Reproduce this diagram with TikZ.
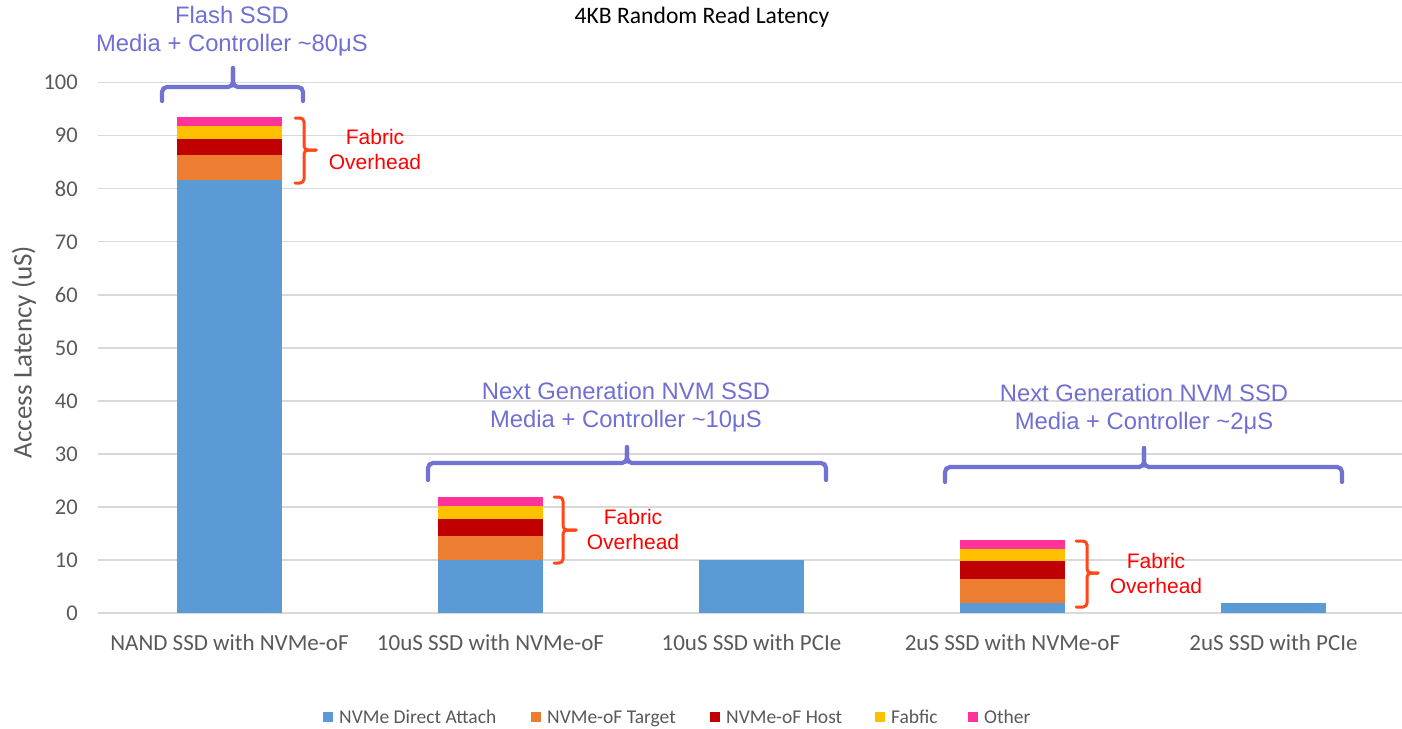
\documentclass[tikz,border=0pt]{standalone}
\usepackage{fontspec}
\setmainfont{Carlito}
\newfontfamily\arialf{Liberation Sans}
\definecolor{cblue}{HTML}{5B9BD5}
\definecolor{corange}{HTML}{ED7D31}
\definecolor{cred}{HTML}{C00000}
\definecolor{cyellow}{HTML}{FFC000}
\definecolor{cpink}{HTML}{FF3399}
\definecolor{cgrid}{HTML}{D9D9D9}
\definecolor{cgray}{HTML}{595959}
\definecolor{cpurple}{HTML}{6F6FD4}
\definecolor{cbrace}{HTML}{7272D2}
\definecolor{cfab}{HTML}{FF4719}
\newcommand\stackbar[6]{%
  \fill[cblue]   (#1-52.5,613) rectangle (#1+52.5,#2);
  \fill[corange] (#1-52.5,#2) rectangle (#1+52.5,#3);
  \fill[cred]    (#1-52.5,#3) rectangle (#1+52.5,#4);
  \fill[cyellow] (#1-52.5,#4) rectangle (#1+52.5,#5);
  \fill[cpink]   (#1-52.5,#5) rectangle (#1+52.5,#6);}
\begin{document}
\begin{tikzpicture}[x=1pt,y=-1pt,
  grid/.style={draw=cgrid,line width=1.4pt},
  ticklbl/.style={anchor=east,inner sep=0pt,text=cgray,font=\fontsize{22.5}{26}\selectfont},
  catlbl/.style={inner sep=0pt,text=cgray,font=\fontsize{23}{27}\selectfont},
  leglbl/.style={anchor=base west,inner sep=0pt,text=cgray,font=\fontsize{19.5}{23}\selectfont},
  purplelbl/.style={align=center,inner sep=0pt,text=cpurple,font=\arialf\fontsize{23.8}{28}\selectfont},
  fablbl/.style={align=center,inner sep=0pt,text=red,font=\arialf\fontsize{21}{25}\selectfont},
  pbrace/.style={draw=cbrace,line width=4.2pt,rounded corners=5pt,line cap=round},
  rbrace/.style={draw=cfab,line width=3pt,rounded corners=4pt,line cap=round}]
\useasboundingbox (0,0) rectangle (1402,728);
\fill[white] (0,0) rectangle (1402,728);
% gridlines and ticks
\foreach \v in {0,10,...,100}{
  \draw[grid] (98,{613-5.303*\v}) -- (1402,{613-5.303*\v});
  \node[ticklbl] (tick\v) at (78,{613-5.303*\v}) {\v};
}
% bars
\stackbar{229.5}{180}{155.3}{139}{125.7}{117.3}
\stackbar{490.5}{560.3}{536.3}{519}{506.3}{497.3}
\fill[cblue] (751.5-52.5,613) rectangle (751.5+52.5,560.3);
\stackbar{1012.5}{603}{578.7}{561.3}{549}{540.3}
\fill[cblue] (1273.5-52.5,613) rectangle (1273.5+52.5,603);
% title and axis label
\node[inner sep=0pt,font=\fontsize{23.6}{28}\selectfont] (title) at (702,17) {4KB Random Read Latency};
\node[inner sep=0pt,rotate=90,text=cgray,font=\fontsize{27}{30}\selectfont] (ylbl) at (24,352) {Access Latency (uS)};
% category labels
\node[catlbl] (c1) at (229.5,643) {NAND SSD with NVMe-oF};
\node[catlbl] (c2) at (490.5,643) {10uS SSD with NVMe-oF};
\node[catlbl] (c3) at (751.5,643) {10uS SSD with PCIe};
\node[catlbl] (c4) at (1012.5,643) {2uS SSD with NVMe-oF};
\node[catlbl] (c5) at (1273.5,643) {2uS SSD with PCIe};
% purple braces
\draw[pbrace] (162,101) -- (162,87) -- (233,87) -- (233,68);
\draw[pbrace] (303,101) -- (303,87) -- (233,87) -- (233,68);
\draw[pbrace] (428,480) -- (428,463) -- (627,463) -- (627,447);
\draw[pbrace] (826,480) -- (826,463) -- (627,463) -- (627,447);
\draw[pbrace] (945,482) -- (945,467) -- (1144,467) -- (1144,448);
\draw[pbrace] (1342,482) -- (1342,467) -- (1144,467) -- (1144,448);
\node[purplelbl] (p1) at (232,31) {Flash SSD\\Media + Controller \textasciitilde80μS};
\node[purplelbl] (p2) at (626,407) {Next Generation NVM SSD\\Media + Controller \textasciitilde10μS};
\node[purplelbl] (p3) at (1144,409) {Next Generation NVM SSD\\Media + Controller \textasciitilde2μS};
% red braces
\draw[rbrace] (295,118) -- (304,118) -- (304,150) -- (316,150);
\draw[rbrace] (295,183) -- (304,183) -- (304,150) -- (316,150);
\draw[rbrace] (554,497) -- (563,497) -- (563,530) -- (576,530);
\draw[rbrace] (554,563) -- (563,563) -- (563,530) -- (576,530);
\draw[rbrace] (1076,541) -- (1087,541) -- (1087,573) -- (1098,573);
\draw[rbrace] (1076,607) -- (1087,607) -- (1087,573) -- (1098,573);
\node[fablbl] (f1) at (375,149) {Fabric\\Overhead};
\node[fablbl] (f2) at (633,529) {Fabric\\Overhead};
\node[fablbl] (f3) at (1156,573) {Fabric\\Overhead};
% legend
\fill[cblue]   (323,712) rectangle (333,722);
\fill[corange] (531,712) rectangle (541,722);
\fill[cred]    (710,712) rectangle (720,722);
\fill[cyellow] (875,712) rectangle (885,722);
\fill[cpink]   (968,712) rectangle (978,722);
\node[leglbl] (l1) at (339,723) {NVMe Direct Attach};
\node[leglbl] (l2) at (547,723) {NVMe-oF Target};
\node[leglbl] (l3) at (726,723) {NVMe-oF Host};
\node[leglbl] (l4) at (891,723) {Fabfic};
\node[leglbl] (l5) at (984,723) {Other};
\end{tikzpicture}
\end{document}
